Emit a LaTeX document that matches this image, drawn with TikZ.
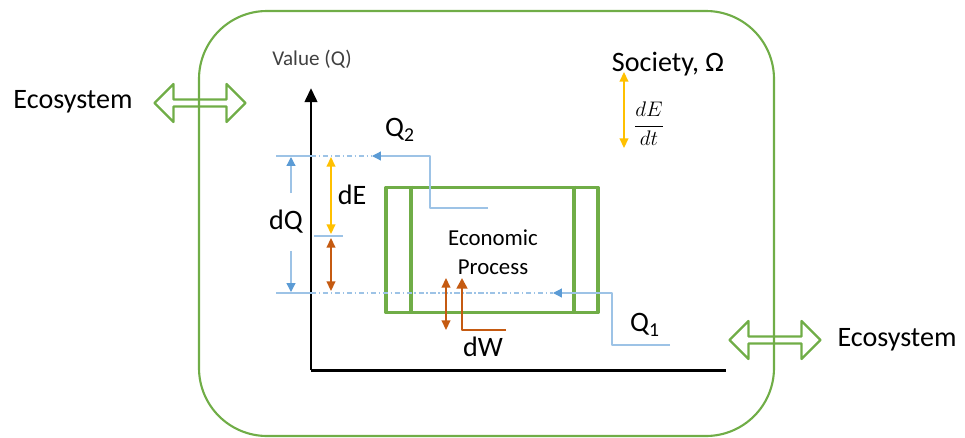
\documentclass[tikz,border=0pt]{standalone}
\usepackage{fontspec}
\setmainfont{Carlito}
\usetikzlibrary{arrows.meta,shapes.arrows,positioning}

\definecolor{ecogreen}{HTML}{70AD47}
\definecolor{flowblue}{HTML}{9DC3E6}
\definecolor{tipblue}{HTML}{5B9BD5}
\definecolor{energy}{HTML}{FFC000}
\definecolor{waste}{HTML}{C55A11}
\definecolor{axisgray}{HTML}{404040}

\tikzset{
  lbl/.style={font=\fontsize{16}{19}\selectfont, inner sep=0pt},
  ecoarrow/.style={double arrow, draw=ecogreen, line width=1.3pt,
    minimum height=1.82cm, minimum width=0.76cm,
    double arrow head extend=0.1cm, double arrow tip angle=90, inner sep=0pt},
  flow/.style={flowblue, line width=0.7pt},
  flowtip/.style={flow, -{Triangle[color=tipblue, width=5pt, length=5pt]}},
  dashdot/.style={flowblue, line width=0.7pt, dash pattern=on 3pt off 1.5pt on 0.8pt off 1.5pt},
  energyarrow/.style={energy, line width=0.9pt, {Triangle[width=5pt, length=5.5pt]}-{Triangle[width=5pt, length=5.5pt]}},
  wastearrow/.style={waste, line width=0.9pt, {Triangle[width=5pt, length=5.5pt]}-{Triangle[width=5pt, length=5.5pt]}},
}

\begin{document}
\begin{tikzpicture}[x=0.02cm, y=-0.02cm, line join=round]
  \useasboundingbox (0,0) rectangle (965,437);

  % Society boundary
  \draw[ecogreen, line width=1.2pt, rounded corners=1.36cm] (199,11) rectangle (774,436);

  % Ecosystem exchanges
  \node[ecoarrow] (ecoL) at (200,103) {};
  \node[ecoarrow] (ecoR) at (775,340) {};
  \node[lbl] (ecoLlbl) at (73,102) {Ecosystem};
  \node[lbl] (ecoRlbl) at (897,340) {Ecosystem};

  % Axes
  \coordinate (O) at (311,370);
  \coordinate (Ytop) at (311,88);
  \coordinate (Xend) at (726,370);
  \draw[line width=1.7pt, -{Triangle[width=7pt, length=8pt]}] (O) -- (Ytop);
  \draw[line width=1.7pt] (O) -- (Xend);
  \node[font=\fontsize{12}{14}\selectfont, text=axisgray, inner sep=0pt] (ylbl) at (312,59) {Value (Q)};

  % Economic process
  \node[draw=ecogreen, line width=2.2pt, minimum width=4.24cm, minimum height=2.5cm, inner sep=0pt] (econ) at (492,250) {};
  \draw[ecogreen, line width=2.2pt] ([xshift=0.54cm]econ.north west) -- ([xshift=0.54cm]econ.south west);
  \draw[ecogreen, line width=2.2pt] ([xshift=-0.52cm]econ.north east) -- ([xshift=-0.52cm]econ.south east);
  \node[font=\fontsize{13}{16.4}\selectfont, align=center, inner sep=0pt] (econlbl) at (493,252) {Economic\\Process};

  % Value flows
  \coordinate (q2start) at (488,208);
  \coordinate (q2bend) at (430,156);
  \coordinate (q2tip) at (372,156);
  \coordinate (q1start) at (670,345);
  \coordinate (q1bend) at (612,293);
  \coordinate (q1tip) at (553,293);
  \draw[flowtip] (q2start) -| (q2bend) -- (q2tip);
  \draw[flowtip] (q1start) -| (q1bend) -- (q1tip);
  \node[lbl] (q2) at (400,130) {Q\textsubscript{2}};
  \node[lbl] (q1) at (645,325) {Q\textsubscript{1}};

  % Levels
  \coordinate (topL) at (276,156);
  \coordinate (topA) at (311,156);
  \coordinate (botL) at (276,293);
  \coordinate (botA) at (311,293);
  \coordinate (midL) at (314,236);
  \coordinate (midR) at (343,236);
  \draw[flow] (topL) -- (topA);
  \draw[flow] (botL) -- (botA);
  \draw[flow] (midL) -- (midR);
  \draw[dashdot] (topA) -- (q2tip);
  \draw[dashdot] (botA) -- (q1tip);

  % dQ
  \node[lbl, minimum height=1.14cm] (dQ) at (286,222) {dQ};
  \coordinate (dQtop) at (291,157);
  \coordinate (dQbot) at (291,292);
  \draw[flowtip] (dQ.north -| dQtop) -- (dQtop);
  \draw[flowtip] (dQ.south -| dQbot) -- (dQbot);

  % dE and losses
  \coordinate (eTop) at (331,157);
  \coordinate (eMid) at (331,234);
  \coordinate (wTop) at (331,238);
  \coordinate (wBot) at (331,291);
  \draw[energyarrow] (eTop) -- (eMid);
  \draw[wastearrow] (wTop) -- (wBot);
  \node[lbl] (dE) at (352,195) {dE};

  % dW
  \coordinate (w2Top) at (446,278);
  \coordinate (w2Bot) at (446,330);
  \draw[wastearrow] (w2Top) -- (w2Bot);
  \coordinate (lTip) at (462,278);
  \coordinate (lCorner) at (462,330);
  \coordinate (lEnd) at (506,330);
  \draw[waste, line width=1.6pt, -{Triangle[width=6pt, length=6pt]}] (lEnd) -- (lCorner) -- (lTip);
  \node[lbl] (dW) at (483,347) {dW};

  % Society
  \node[lbl] (society) at (668,64) {Society, Ω};
  \coordinate (sTop) at (624,72);
  \coordinate (sBot) at (624,148);
  \draw[energyarrow] (sTop) -- (sBot);
  \node[inner sep=0pt, font=\fontsize{13}{15}\selectfont] (dEdt) at (649,124) {$\displaystyle\frac{dE}{dt}$};
\end{tikzpicture}
\end{document}
